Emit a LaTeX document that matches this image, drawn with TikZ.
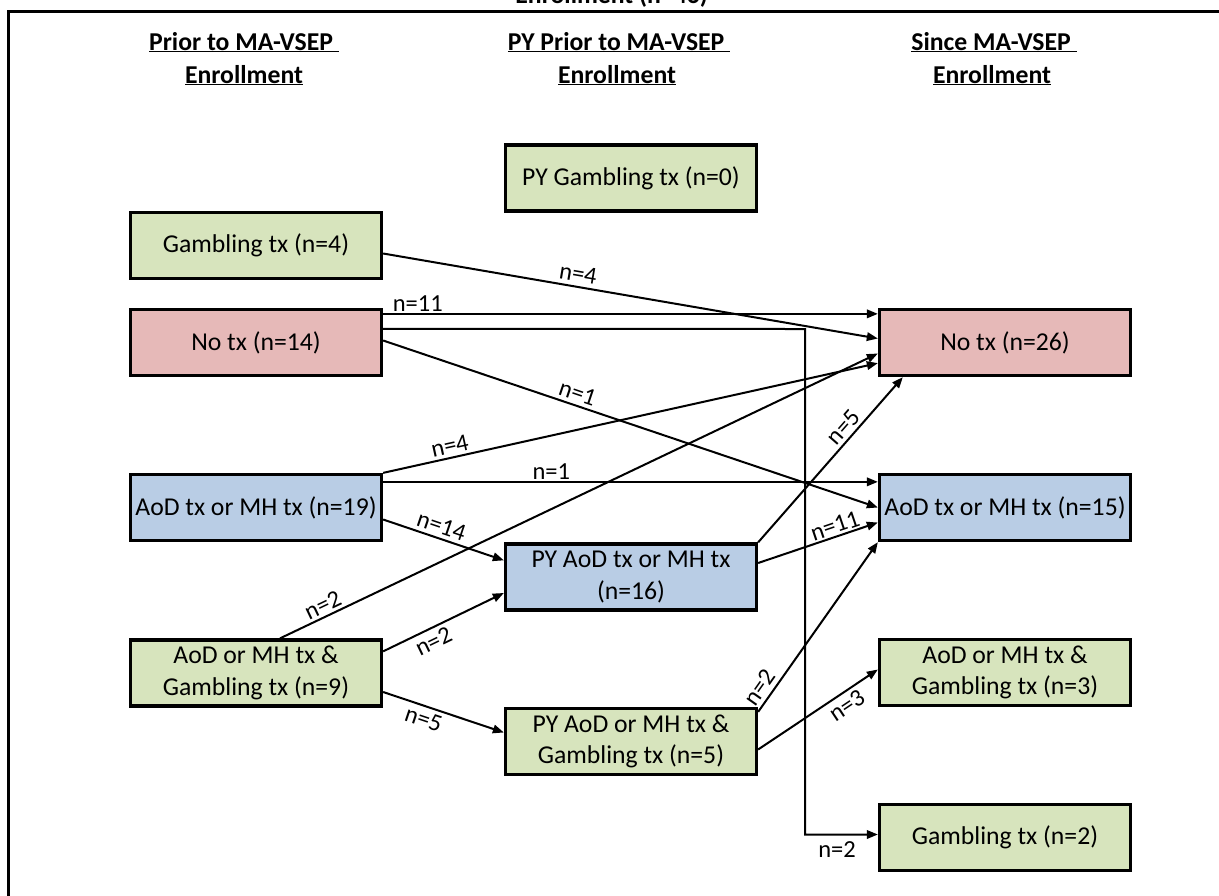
\documentclass[tikz,border=0pt]{standalone}
\usepackage{fontspec}
\setmainfont{Carlito}
\usetikzlibrary{arrows.meta,calc}
\definecolor{boxgreen}{HTML}{D7E4BD}
\definecolor{boxpink}{HTML}{E6B9B8}
\definecolor{boxblue}{HTML}{B9CDE5}
\begin{document}
\begin{tikzpicture}[x=1pt,y=-1pt,
  box/.style={draw=black,line width=3.3pt,minimum width=251pt,minimum height=66pt,inner sep=0pt,align=center,font=\fontsize{25.7}{31.5}\selectfont},
  gbox/.style={box,fill=boxgreen},
  pbox/.style={box,fill=boxpink},
  bbox/.style={box,fill=boxblue},
  flow/.style={line width=2pt,-{Triangle[length=11pt,width=8.5pt]}},
  lab/.style={font=\fontsize{24.5}{28}\selectfont,inner sep=1pt,sloped},
  hdr/.style={anchor=base,inner sep=0pt,font=\bfseries\fontsize{25.7}{33}\selectfont}]
\useasboundingbox (0,0) rectangle (1219,895);
\clip (0,0) rectangle (1219,895);
% frame and clipped title
\draw[line width=3pt] (1225,11) -- (8,11) -- (8,900);
\node[anchor=base east,inner sep=0pt,font=\bfseries\fontsize{25.7}{32}\selectfont] (title) at (708,3) {Enrollment (n=46)};
% headers
\node[hdr] (h1a) at (244,50) {\underline{Prior to MA-VSEP~}};
\node[hdr] (h1b) at (244,83) {\underline{Enrollment}};
\node[hdr] (h2a) at (619,50) {\underline{PY Prior to MA-VSEP~}};
\node[hdr] (h2b) at (617,83) {\underline{Enrollment}};
\node[hdr] (h3a) at (994,50) {\underline{Since MA-VSEP~}};
\node[hdr] (h3b) at (992,83) {\underline{Enrollment}};
% left column
\node[gbox] (g4) at (256,245.5) {Gambling tx (n=4)};
\node[pbox] (no14) at (256,342.5) {No tx (n=14)};
\node[bbox] (aod19) at (256,507.5) {AoD tx or MH tx (n=19)};
\node[gbox] (both9) at (256,673) {AoD or MH tx \&\\Gambling tx (n=9)};
% middle column
\node[gbox] (pyg0) at (631,178) {PY Gambling tx (n=0)};
\node[bbox] (pyaod16) at (631,577) {PY AoD tx or MH tx\\(n=16)};
\node[gbox] (pyboth5) at (631,741.5) {PY AoD or MH tx \&\\Gambling tx (n=5)};
% right column
\node[pbox] (no26) at (1005,342.5) {No tx (n=26)};
\node[bbox] (aod15) at (1005,507.5) {AoD tx or MH tx (n=15)};
\node[gbox] (both3) at (1005,672.5) {AoD or MH tx \&\\Gambling tx (n=3)};
\node[gbox] (g2) at (1005,837.5) {Gambling tx (n=2)};
% connectors
\draw[flow] ($(g4.east)+(0,8)$) -- node[lab,above=3pt,pos=0.39]{n=4} ($(no26.west)+(0,-4)$);
\draw[flow] ($(no14.north east)+(0,6)$) -- node[lab,above,pos=0.07]{n=11} ($(no26.north west)+(0,6)$);
\coordinate (elbow) at (805,329);
\draw[flow] ($(no14.north east)+(0,21)$) -- (elbow) |- node[lab,below=5pt,pos=0.72]{n=2} ($(g2.west)+(0,-3)$);
\draw[flow] ($(no14.east)+(0,-2)$) -- node[lab,above=3pt,pos=0.385]{n=1} (aod15.west);
\draw[flow] (aod19.north east) -- node[lab,above=2pt,pos=0.14]{n=4} ($(no26.south west)+(0,-14)$);
\draw[flow] ($(aod19.north east)+(0,9)$) -- node[lab,above,pos=0.34]{n=1} ($(aod15.north west)+(0,9)$);
\draw[flow] ($(aod19.east)+(0,12)$) -- node[lab,above=3pt,pos=0.45]{n=14} ($(pyaod16.north west)+(0,18)$);
\draw[flow] ($(both9.north)+(24,0)$) -- node[lab,above=2pt,pos=0.08]{n=2} ($(no26.west)+(0,11)$);
\draw[flow] ($(both9.north east)+(0,13)$) -- node[lab,below=3pt,pos=0.37]{n=2} ($(pyaod16.west)+(0,16)$);
\draw[flow] ($(both9.east)+(0,19)$) -- node[lab,below=3pt,pos=0.37]{n=5} ($(pyboth5.west)+(0,-9)$);
\draw[flow] (pyaod16.north east) -- node[lab,above=2pt,pos=0.65]{n=5} ($(no26.south west)+(25,0)$);
\draw[flow] ($(pyaod16.east)+(0,-14)$) -- node[lab,above=1pt,pos=0.67]{n=11} ($(aod15.west)+(0,15)$);
\draw[flow] ($(pyboth5.north east)+(0,5)$) -- node[lab,above=3pt,pos=0.1]{n=2} (aod15.south west);
\draw[flow] ($(pyboth5.east)+(0,8)$) -- node[lab,below=3pt,pos=0.68]{n=3} ($(both3.west)+(0,-3)$);
\end{tikzpicture}
\end{document}
